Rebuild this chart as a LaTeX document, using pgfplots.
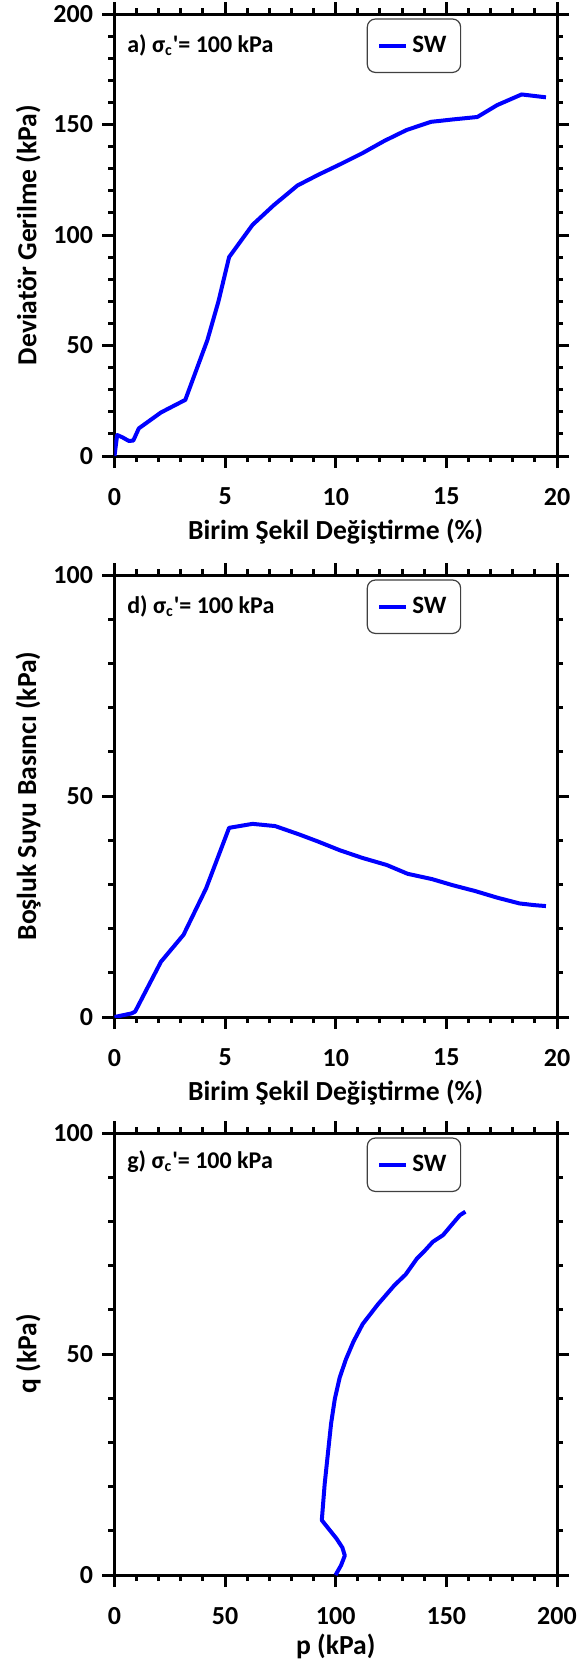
\documentclass[border=0pt]{standalone}
\usepackage{fontspec}
\setmainfont{Carlito}
\usepackage{pgfplots}
\pgfplotsset{compat=1.18}
\definecolor{swblue}{RGB}{80,0,210}
\pgfplotsset{
  myax/.style={
    width=221.25pt, height=221pt, scale only axis,
    tick align=outside, tick pos=both,
    axis line style={line width=1.5pt},
    every tick/.style={black, line width=1.5pt},
    major tick length=6pt, minor tick length=3pt,
    minor tick num=4,
    tick label style={font=\fontsize{13}{15}\selectfont\bfseries},
    /pgf/number format/assume math mode=true,
    xticklabel style={yshift=-6.5pt},
    yticklabel style={xshift=-1.2pt},
    label style={font=\fontsize{13.8}{16}\selectfont\bfseries},
    ylabel style={at={(axis description cs:-0.195,0.5)}, anchor=center},
    xlabel style={at={(axis description cs:0.5,-0.19)}, anchor=base},
    legend style={at={(axis description cs:0.570,0.990)}, anchor=north west,
      draw=black!75, line width=0.6pt, rounded corners=4pt,
      inner xsep=5pt, inner ysep=6.5pt,
      font=\fontsize{12.5}{14}\selectfont\bfseries},
    legend image code/.code={\draw[##1, line width=2pt, sharp corners] (0pt,0pt) -- (13.5pt,0pt);},
    every axis plot/.append style={swblue, line width=2pt, line join=round, no markers},
  }
}
\newcommand{\ann}[1]{\fontsize{12}{14}\selectfont\bfseries #1) σ\textsubscript{c}\textquotesingle= 100 kPa}
\begin{document}
\begin{tikzpicture}
\useasboundingbox (-57.25pt,7pt) rectangle (235.75pt,-826pt);
% Panel a
\begin{axis}[myax, at={(0pt,0pt)}, anchor=north west,
  xmin=0, xmax=20, ymin=0, ymax=200,
  xtick={0,5,...,20}, ytick={0,50,...,200},
  xlabel={Birim Şekil Değiştirme (\%)},
  ylabel={Deviatör Gerilme (kPa)}]
\addplot coordinates {
(0,0) (0.12,9.5) (0.35,8.5) (0.65,6.8) (0.85,7) (1.1,12.5) (2.1,19.7) (3.2,25.4)
(4.2,52.5) (4.7,70) (5.18,90) (6.24,104.6) (7.2,113.5) (8.27,122.4) (9.2,127.2)
(10.2,132) (11.2,137) (12.2,142.6) (13.2,147.5) (14.3,151.2) (15.3,152.3)
(16.4,153.4) (17.3,158.8) (18.4,163.6) (19.5,162.3)};
\addlegendentry{SW}
\node[anchor=base west, inner sep=0pt] at (rel axis cs:0.028,0.914) {\ann{a}};
\end{axis}
% Panel d
\begin{axis}[myax, at={(0pt,-280.5pt)}, anchor=north west,
  xmin=0, xmax=20, ymin=0, ymax=100,
  xtick={0,5,...,20}, ytick={0,50,100},
  xlabel={Birim Şekil Değiştirme (\%)},
  ylabel={Boşluk Suyu Basıncı (kPa)}]
\addplot coordinates {
(0,0) (0.76,0.8) (0.93,1.2) (2.1,12.5) (3.12,18.6) (4.14,29.1) (5.18,42.8)
(6.24,43.7) (7.26,43.2) (8.35,41.3) (9.2,39.7) (10.2,37.7) (11.2,36.0)
(12.3,34.4) (13.25,32.4) (14.35,31.2) (15.3,29.8) (16.3,28.5) (17.3,27.0)
(18.3,25.7) (19.0,25.3) (19.5,25.1)};
\addlegendentry{SW}
\node[anchor=base west, inner sep=0pt] at (rel axis cs:0.028,0.914) {\ann{d}};
\end{axis}
% Panel g
\begin{axis}[myax, at={(0pt,-559.5pt)}, anchor=north west,
  xmin=0, xmax=200, ymin=0, ymax=100,
  xtick={0,50,...,200}, ytick={0,50,100},
  xlabel={p (kPa)},
  ylabel={q (kPa)},
  xlabel style={at={(axis description cs:0.5,-0.18)}, anchor=base}]
\addplot coordinates {
(99.9,0) (102.4,2.2) (104.1,4.4) (103,6.2) (100.4,8.2) (93.7,12.4) (95,20.6)
(96.2,26.3) (97.9,34.3) (99.6,39.9) (101.8,44.7) (104.6,48.8) (108,52.8)
(112.2,56.8) (119,61.2) (126.6,65.6) (131.6,68) (136.7,71.6) (140.1,73.3)
(143.9,75.4) (148.5,76.9) (152.7,79.4) (156.1,81.4) (158.6,82.2)};
\addlegendentry{SW}
\node[anchor=base west, inner sep=0pt] at (rel axis cs:0.028,0.92) {\ann{g}};
\end{axis}
\end{tikzpicture}
\end{document}
